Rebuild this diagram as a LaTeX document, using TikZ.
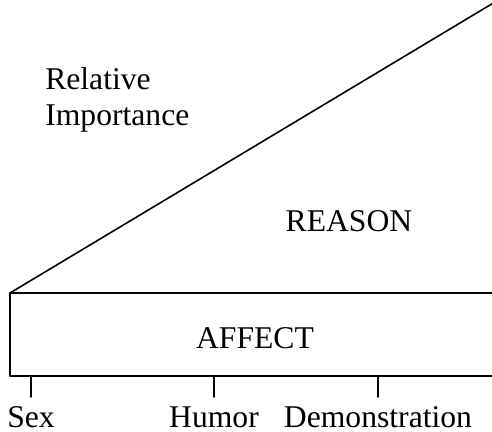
\documentclass[tikz,border=0pt]{standalone}
\usepackage{fontspec}
\setmainfont{Liberation Serif}
\tikzset{
  lbl/.style={font=\fontsize{22.5}{25.6}\selectfont,inner sep=0pt},
}
\begin{document}
\begin{tikzpicture}[x=0.025cm,y=-0.025cm,line cap=round,line join=round]
  \useasboundingbox (0,0) rectangle (492,432);
  % wedge of reason
  \coordinate (o) at (10,293);
  \coordinate (top) at (495,2);
  \draw[line width=1.1pt] (o)--(top);
  % affect band, open to the right
  \coordinate (bl) at (10,376);
  \draw[line width=1.5pt] (510,293)--(o)--(bl)--(510,376);
  % scale marks
  \foreach \x/\n/\t in {31/sex/Sex,214/humor/Humor,378/demo/Demonstration} {
    \coordinate (\n) at (\x,376);
    \draw[line width=1.1pt] (\n)--++(0,21);
    \node[lbl,anchor=base] (\n-l) at (\x,427) {\t};
  }
  \node[lbl,anchor=base] (affect) at (255,348) {AFFECT};
  \node[lbl,anchor=base] (reason) at (349,232) {REASON};
  \node[lbl,anchor=base west,align=left] (rel) at (45,126) {Relative\\Importance};
\end{tikzpicture}
\end{document}
